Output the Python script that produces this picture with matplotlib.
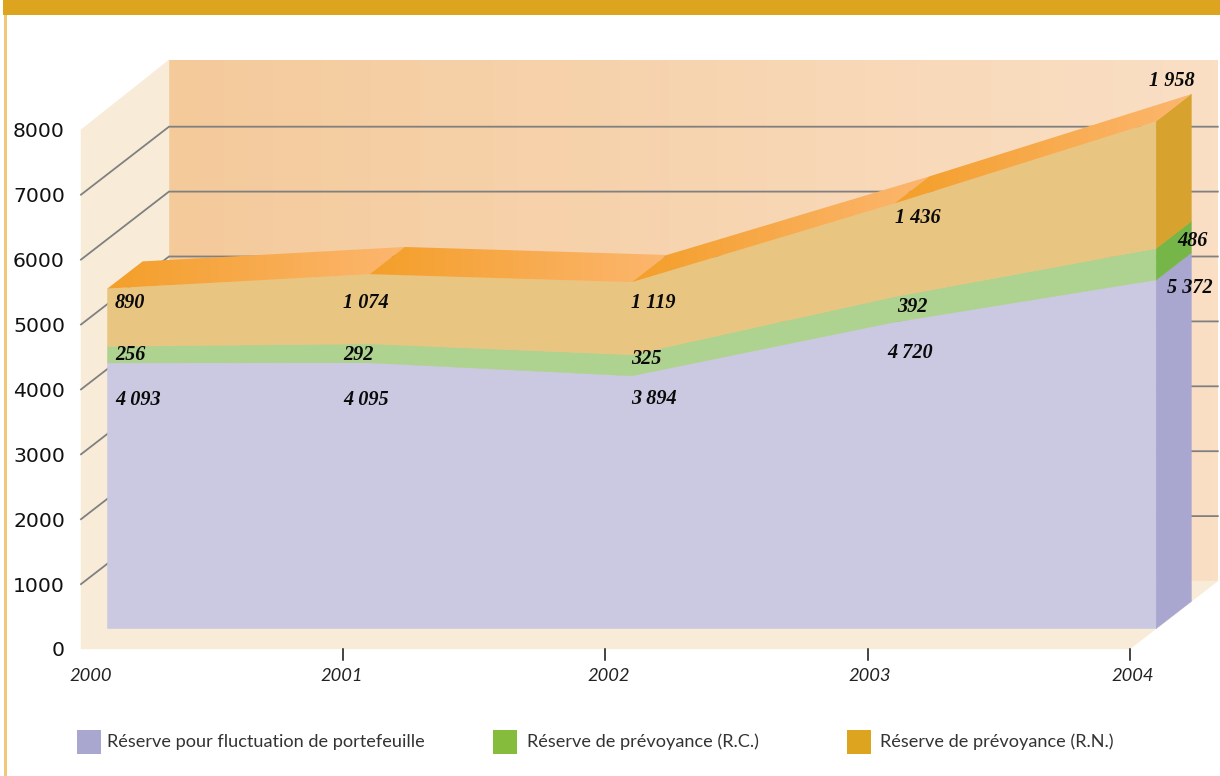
import numpy as np
import matplotlib
matplotlib.use("Agg")
import matplotlib.pyplot as plt
from matplotlib.colors import LinearSegmentedColormap
from matplotlib.patches import Polygon, Rectangle

# ---- data ----
years = ["2000", "2001", "2002", "2003", "2004"]
fluctuation = [4093, 4095, 3894, 4720, 5372]
prevoyance_rc = [256, 292, 325, 392, 486]
prevoyance_rn = [890, 1074, 1119, 1436, 1958]
y_ticks = [0, 1000, 2000, 3000, 4000, 5000, 6000, 7000, 8000]
legend_labels = ["Réserve pour fluctuation de portefeuille",
                 "Réserve de prévoyance (R.C.)",
                 "Réserve de prévoyance (R.N.)"]

# ---- layout (pixels) ----
W, H = 1220, 776
X0, Y0 = 81.0, 649.0
STEP_X = 262.2
PX_PER_UNIT = 0.0649
DEPTH_X, DEPTH_Y = 88.0, 68.0
D_FRONT, D_BACK = 0.30, 0.70
VMAX = 8000
WALL_TOP = 8028

year_label_x = [91, 341.5, 609, 870, 1132.5]
label_anchor = {  # x, y of each value label, left edge / vertical centre
    "rn": ([115, 343, 631, 895, 1149], [303, 303, 303, 218, 81]),
    "rc": ([115, 343, 631, 897, 1177], [355, 355, 359, 307, 241]),
    "fl": ([115, 343, 631, 887, 1167], [400, 400, 399, 353, 288]),
}
legend_box_x = [77, 493, 847]
legend_text_x = [107, 527, 880]

# ---- colours ----
BAND = "#DDA420"
EDGE = "#F0C878"
WALL = "#F8ECD8"
GRID = "#808080"
front_colors = ["#CBC9E2", "#AED28F", "#E8C682"]
side_colors = ["#A9A6CF", "#76B548", "#D7A22E"]
legend_colors = ["#A9A6CF", "#85BC3C", "#DDA420"]
back_cmap = LinearSegmentedColormap.from_list("b", ["#F4CA9B", "#FADFC5"])
top_cmap = LinearSegmentedColormap.from_list("t", ["#F49F2A", "#FCB66F"])


def project(i, v, d):
    """Oblique projection: category index, value, depth (0 front - 1 back)."""
    return (X0 + STEP_X * i + DEPTH_X * d, Y0 - PX_PER_UNIT * v - DEPTH_Y * d)


fig = plt.figure(figsize=(W / 100, H / 100), dpi=100, facecolor="white")
ax = fig.add_axes([0, 0, 1, 1])
ax.set_axis_off()


def poly(points, color, z):
    ax.add_patch(Polygon(points, closed=True, facecolor=color, edgecolor=color,
                         linewidth=0.3, zorder=z))


def grad_poly(points, cmap, z):
    pts = np.array(points)
    grad = np.linspace(0, 1, 256).reshape(1, -1)
    im = ax.imshow(grad, cmap=cmap, aspect="auto", zorder=z, interpolation="bilinear",
                   extent=[pts[:, 0].min(), pts[:, 0].max(),
                           pts[:, 1].max(), pts[:, 1].min()])
    clip = Polygon(points, closed=True, transform=ax.transData)
    im.set_clip_path(clip)


n = len(years)
last = n - 1

# walls and floor
grad_poly([project(0, 0, 1), project(last, 0, 1), project(last, WALL_TOP, 1), project(0, WALL_TOP, 1)],
          back_cmap, 1)
poly([project(0, 0, 0), project(0, VMAX, 0), project(0, WALL_TOP, 1), project(0, 0, 1)], WALL, 2)
poly([project(0, 0, 0), project(last, 0, 0), project(last, 0, 1), project(0, 0, 1)], WALL, 2)

# gridlines
for v in y_ticks[1:-1]:
    p0, p1, p2 = project(0, v, 0), project(0, v, 1), project(last, v, 1)
    ax.plot([p0[0], p1[0], p2[0]], [p0[1], p1[1], p2[1]], color=GRID, lw=1.3,
            zorder=3, solid_joinstyle="miter")

# stacked layers
stack = np.cumsum([fluctuation, prevoyance_rc, prevoyance_rn], axis=0)
bottoms = [np.zeros(n)] + [stack[k] for k in range(2)]
for k in range(3):
    top, bot = stack[k], bottoms[k]
    front = [project(i, top[i], D_FRONT) for i in range(n)] + \
            [project(i, bot[i], D_FRONT) for i in reversed(range(n))]
    poly(front, front_colors[k], 5)
    poly([project(last, bot[last], D_FRONT), project(last, top[last], D_FRONT),
          project(last, top[last], D_BACK), project(last, bot[last], D_BACK)],
         side_colors[k], 5)

# top face, one gradient per segment
total = stack[2]
for i in range(last):
    grad_poly([project(i, total[i], D_FRONT), project(i + 1, total[i + 1], D_FRONT),
               project(i + 1, total[i + 1], D_BACK), project(i, total[i], D_BACK)],
              top_cmap, 6 + i * 0.01)

# y tick labels
for v in y_ticks:
    x, y = project(0, v, 0)
    ax.text(65, y, str(v), ha="right", va="center_baseline", fontsize=14.7,
            family="DejaVu Sans", color="#111111", zorder=8)

# x ticks and labels
for i in range(1, n):
    x, y = project(i, 0, 0)
    ax.plot([x, x], [y, y + 11], color="#111111", lw=1.1, zorder=8)
for lab, x in zip(years, year_label_x):
    ax.text(x, 676, lab, ha="center", va="center", fontsize=13.2, style="italic",
            family="Lato", color="#222222", zorder=8)

# value labels
series = {"rn": prevoyance_rn, "rc": prevoyance_rc, "fl": fluctuation}
for key, vals in series.items():
    xs, ys = label_anchor[key]
    for v, x, y in zip(vals, xs, ys):
        ax.text(x, y, f"{v:,}".replace(",", " "), ha="left", va="center",
                fontsize=14.6, style="italic", weight="bold",
                family="Liberation Serif", color="#0A0A0A", zorder=9)

# legend
for lab, c, bx, tx in zip(legend_labels, legend_colors, legend_box_x, legend_text_x):
    ax.add_patch(Rectangle((bx, 730), 24, 24, facecolor=c, edgecolor="none", zorder=8))
    ax.text(tx, 742, lab, ha="left", va="center", fontsize=13.1, family="Lato",
            color="#333333", zorder=8)

# page decoration
ax.add_patch(Rectangle((3, 0), W - 3, 15, facecolor=BAND, edgecolor="none", zorder=10))
ax.add_patch(Rectangle((3.5, 15), 3, H - 15, facecolor=EDGE, edgecolor="none", zorder=10))

ax.set_xlim(0, W)
ax.set_ylim(H, 0)
fig.savefig("out.png", dpi=100, facecolor="white")
